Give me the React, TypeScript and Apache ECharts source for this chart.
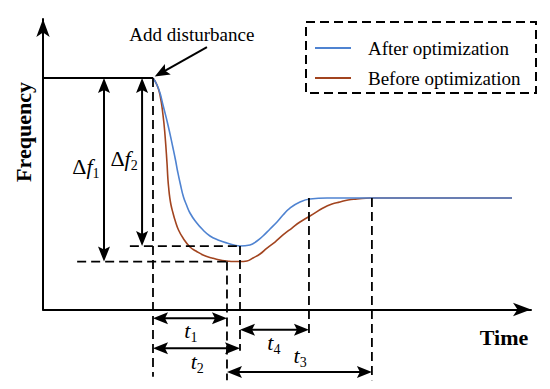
import React, { useEffect, useRef } from 'react';
import * as echarts from 'echarts';

const seriesNames = ['After optimization', 'Before optimization'];

// curve samples (time, frequency) in arbitrary units
const afterTime = [2.254, 2.336, 2.398, 2.459, 2.561, 2.664, 2.715, 2.761, 2.814, 2.879, 2.941, 3.012, 3.135, 3.279, 3.422, 3.586, 3.77, 4.037, 4.242, 4.385, 4.508, 4.652, 4.795, 4.918, 5.061, 5.266, 5.471, 5.82, 6.23, 9.611];
const afterFreq = [4.781, 4.637, 4.471, 4.224, 3.811, 3.336, 3.088, 2.84, 2.592, 2.324, 2.159, 1.993, 1.807, 1.642, 1.518, 1.436, 1.373, 1.311, 1.332, 1.415, 1.518, 1.663, 1.807, 1.952, 2.096, 2.22, 2.282, 2.303, 2.303, 2.303];
const beforeTime = [2.254, 2.336, 2.398, 2.459, 2.5, 2.541, 2.551, 2.561, 2.576, 2.596, 2.623, 2.664, 2.711, 2.777, 2.869, 3.012, 3.135, 3.279, 3.463, 3.627, 3.77, 3.893, 4.037, 4.18, 4.303, 4.447, 4.59, 4.754, 4.918, 5.102, 5.266, 5.471, 5.738, 5.922, 6.086, 6.25, 6.434, 6.701, 9.611];
const beforeFreq = [4.781, 4.637, 4.43, 4.017, 3.604, 3.026, 2.84, 2.675, 2.509, 2.324, 2.159, 1.993, 1.828, 1.642, 1.477, 1.291, 1.208, 1.126, 1.064, 1.022, 1.002, 0.99, 0.99, 1.002, 1.064, 1.146, 1.27, 1.394, 1.539, 1.683, 1.807, 1.931, 2.096, 2.179, 2.22, 2.262, 2.282, 2.303, 2.303];

// key levels and instants
const keyFreqs = [4.781, 1.311, 0.99, 2.303]; // initial, min after, min before, final
const keyTimes = [2.254, 3.77, 4.037, 5.45, 6.74]; // disturbance, min before, min after, settle after, settle before
const [f0, fMinAfter, fMinBefore, fFinal] = keyFreqs;
const [tDist, tMinBefore, tMinAfter, tSettleAfter, tSettleBefore] = keyTimes;

// annotation segments: [x1, y1, x2, y2]
const solidLines = [[0, f0, tDist, f0]];
const dashedLines = [
  [tDist, f0, tDist, -1.39],
  [0.7, fMinBefore, tMinBefore, fMinBefore],
  [tMinBefore, fMinBefore, tMinBefore, -1.46],
  [1.78, fMinAfter, tMinAfter, fMinAfter],
  [tMinAfter, fMinAfter, tMinAfter, -0.85],
  [tSettleAfter, fFinal, tSettleAfter, -0.53],
  [tSettleBefore, fFinal, tSettleBefore, -1.46],
];
const doubleArrows = [
  [1.25, f0, 1.25, fMinBefore],
  [2.03, f0, 2.03, fMinAfter],
  [tDist, -0.18, tMinBefore, -0.18],
  [tDist, -0.8, tMinAfter, -0.8],
  [tMinAfter, -0.42, tSettleAfter, -0.42],
  [tMinBefore, -1.29, tSettleBefore, -1.29],
];
const pointerArrows = [[3.36, 5.42, 2.29, 4.81]];

// labels
const labelTexts = [
  '{d|Δ}{i|f}{s|1}',
  '{d|Δ}{i|f}{s|2}',
  '{i|t}{s|1}',
  '{i|t}{s|2}',
  '{i|t}{s|4}',
  '{i|t}{s|3}',
  '{n|Add disturbance}',
];
const labelX = [0.88, 1.66, 3.03, 3.16, 4.73, 5.27, 3.05];
const labelY = [2.92, 3.09, -0.46, -1.1, -0.71, -0.98, 5.67];

const FONT = "'Liberation Serif', 'Times New Roman', serif";
const BLUE = '#4f83d1';
const BROWN = '#a2441f';

function head(tip: number[], u: number[], len: number, wid: number) {
  const bx = tip[0] - u[0] * len;
  const by = tip[1] - u[1] * len;
  const nx = -u[1];
  const ny = u[0];
  const mx = tip[0] - u[0] * len * 0.8;
  const my = tip[1] - u[1] * len * 0.8;
  return {
    type: 'polygon',
    shape: {
      points: [
        [tip[0], tip[1]],
        [bx + (nx * wid) / 2, by + (ny * wid) / 2],
        [mx, my],
        [bx - (nx * wid) / 2, by - (ny * wid) / 2],
      ],
    },
    style: { fill: '#000', stroke: 'none' },
  };
}

export default function App() {
  const ref = useRef<HTMLDivElement>(null);
  useEffect(() => {
    if (!ref.current) return;
    const chart = echarts.init(ref.current, undefined, { renderer: 'svg' });
    const segments = [
      ...solidLines.map((s) => [...s, 0]),
      ...dashedLines.map((s) => [...s, 1]),
      ...doubleArrows.map((s) => [...s, 2]),
      ...pointerArrows.map((s) => [...s, 3]),
    ];
    const axisCommon = {
      type: 'value' as const,
      axisTick: { show: false },
      axisLabel: { show: false },
      splitLine: { show: false },
      axisLine: {
        show: true,
        symbol: ['none', 'arrow'],
        symbolSize: [10, 18],
        lineStyle: { color: '#000', width: 2 },
      },
    };
    chart.setOption({
      animation: false,
      backgroundColor: '#fff',
      grid: { left: 43, right: 19, top: 19, bottom: 79.5 },
      xAxis: { ...axisCommon, min: 0, max: 10 },
      yAxis: { ...axisCommon, min: 0, max: 6 },
      legend: {
        data: seriesNames,
        orient: 'vertical',
        left: 310,
        top: 28,
        icon: 'rect',
        itemWidth: 36,
        itemHeight: 2,
        itemGap: 0,
        textStyle: { fontFamily: FONT, fontSize: 19, color: '#000', lineHeight: 30, padding: [0, 0, 0, 12] },
      },
      graphic: [
        {
          type: 'rect',
          shape: { x: 306, y: 22, width: 230, height: 71 },
          style: { fill: 'none', stroke: '#000', lineWidth: 2, lineDash: [9, 5] },
        },
        {
          type: 'text',
          x: 23,
          y: 132,
          rotation: Math.PI / 2,
          style: { text: 'Frequency', font: `bold 22px ${FONT}`, fill: '#000', align: 'center', verticalAlign: 'middle' },
        },
        {
          type: 'text',
          x: 504,
          y: 337,
          style: { text: 'Time', font: `bold 22px ${FONT}`, fill: '#000', align: 'center', verticalAlign: 'middle' },
        },
      ],
      series: [
        {
          type: 'line',
          name: seriesNames[1],
          data: beforeTime.map((t, i) => [t, beforeFreq[i]]),
          smooth: 0.5,
          showSymbol: false,
          symbol: 'none',
          clip: false,
          z: 2,
          color: BROWN,
          lineStyle: { color: BROWN, width: 1.6 },
        },
        {
          type: 'line',
          name: seriesNames[0],
          data: afterTime.map((t, i) => [t, afterFreq[i]]),
          smooth: 0.5,
          showSymbol: false,
          symbol: 'none',
          clip: false,
          z: 3,
          color: BLUE,
          lineStyle: { color: BLUE, width: 1.6 },
        },
        {
          type: 'custom',
          clip: false,
          silent: true,
          z: 4,
          data: segments,
          renderItem: (_p: any, api: any) => {
            const a = api.coord([api.value(0), api.value(1)]);
            const b = api.coord([api.value(2), api.value(3)]);
            const kind = api.value(4);
            const dx = b[0] - a[0];
            const dy = b[1] - a[1];
            const d = Math.hypot(dx, dy) || 1;
            const u = [dx / d, dy / d];
            let s = a;
            let e = b;
            const children: any[] = [];
            let lw = 2;
            let dash: any = null;
            if (kind === 1) {
              lw = 1.8;
              dash = [9, 5];
            }
            if (kind === 2) {
              s = [a[0] + u[0] * 10, a[1] + u[1] * 10];
              e = [b[0] - u[0] * 10, b[1] - u[1] * 10];
              children.push(head(a, [-u[0], -u[1]], 15, 12), head(b, u, 15, 12));
            }
            if (kind === 3) {
              e = [b[0] - u[0] * 10, b[1] - u[1] * 10];
              children.push(head(b, u, 15, 12));
            }
            children.unshift({
              type: 'line',
              shape: { x1: s[0], y1: s[1], x2: e[0], y2: e[1] },
              style: { stroke: '#000', lineWidth: lw, lineDash: dash },
            });
            return { type: 'group', children };
          },
        },
        {
          type: 'custom',
          clip: false,
          silent: true,
          z: 5,
          data: labelX.map((x, i) => [x, labelY[i], i]),
          renderItem: (_p: any, api: any) => {
            const p = api.coord([api.value(0), api.value(1)]);
            const idx = api.value(2);
            return {
              type: 'text',
              x: p[0],
              y: p[1],
              style: {
                text: labelTexts[idx],
                align: 'center',
                verticalAlign: 'middle',
                fill: '#000',
                rich: {
                  n: { fontFamily: FONT, fontSize: 19, color: '#000' },
                  d: { fontFamily: FONT, fontSize: 22, color: '#000', padding: [0, 0, 3, 0] },
                  i: { fontFamily: FONT, fontSize: 22, fontStyle: 'italic', color: '#000', padding: [0, 0, 3, 0] },
                  s: { fontFamily: FONT, fontSize: 14, color: '#000', lineHeight: 14, verticalAlign: 'bottom' },
                },
              },
            };
          },
        },
      ],
    });
    return () => chart.dispose();
  }, []);
  return (
    <div
      ref={ref}
      style={{ position: 'absolute', left: 0, top: 0, width: 550, height: 389, background: '#fff' }}
    />
  );
}
